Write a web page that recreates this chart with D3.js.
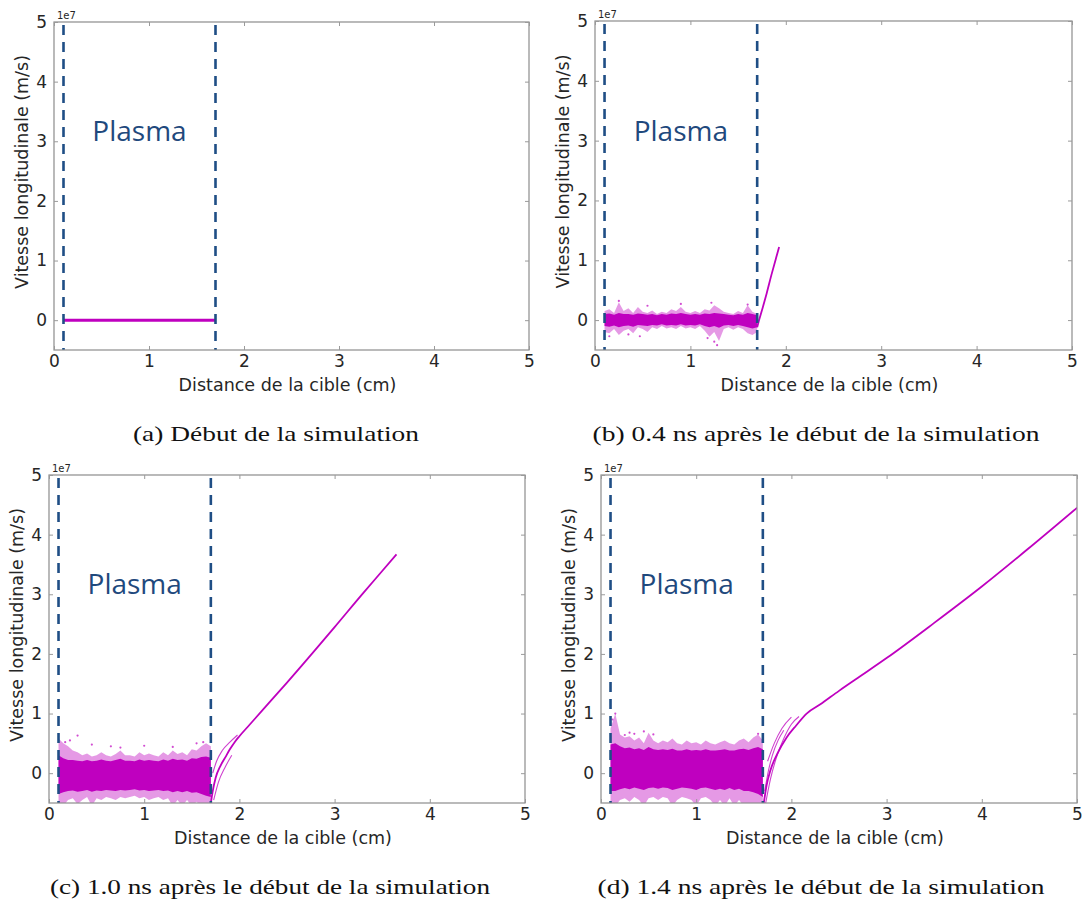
<!DOCTYPE html>
<html><head><meta charset="utf-8">
<script src="https://cdn.jsdelivr.net/npm/d3@7"></script>
<style>body{margin:0;background:#fff}</style>
</head><body>
<svg id="c" width="1083" height="901" xmlns="http://www.w3.org/2000/svg"></svg>
<script>
// ---------- data ----------
const xTicks = [0, 1, 2, 3, 4, 5];
const yTicks = [0, 1, 2, 3, 4, 5];
const xDomain = [0, 5];
const yDomain = [-0.5, 5];
const plasmaEdges = [0.1, 1.7];
const plasmaLabelPos = [0.9, 3.0];
const captions = [
  "(a) Début de la simulation",
  "(b) 0.4 ns après le début de la simulation",
  "(c) 1.0 ns après le début de la simulation",
  "(d) 1.4 ns après le début de la simulation"
];
const xLabel = "Distance de la cible (cm)";
const yLabel = "Vitesse longitudinale (m/s)";

// panel (a): cold plasma at rest
const aLine = [[0.1, 0], [1.7, 0]];

// x positions where the noise envelope was read
const bandX = [0.10,0.15,0.20,0.25,0.30,0.35,0.40,0.45,0.50,0.55,0.60,0.65,0.70,0.75,0.80,0.85,0.90,0.95,1.00,1.05,1.10,1.15,1.20,1.25,1.30,1.35,1.40,1.45,1.50,1.55,1.60,1.65,1.70];

// panel (b)
const bOuterHi = [0.15,0.18,0.12,0.30,0.15,0.20,0.12,0.22,0.14,0.12,0.16,0.10,0.14,0.12,0.18,0.15,0.22,0.14,0.12,0.15,0.12,0.18,0.16,0.25,0.20,0.14,0.12,0.10,0.15,0.12,0.25,0.14,0.10];
const bOuterLo = [-0.20,-0.22,-0.15,-0.25,-0.18,-0.15,-0.22,-0.12,-0.15,-0.20,-0.12,-0.15,-0.10,-0.14,-0.12,-0.15,-0.10,-0.14,-0.12,-0.15,-0.10,-0.18,-0.28,-0.20,-0.35,-0.15,-0.12,-0.16,-0.12,-0.15,-0.22,-0.25,-0.20];
const bCoreHi  = [0.10,0.11,0.09,0.12,0.10,0.10,0.09,0.11,0.10,0.09,0.10,0.08,0.10,0.09,0.11,0.10,0.12,0.10,0.09,0.10,0.09,0.11,0.10,0.12,0.11,0.10,0.09,0.08,0.10,0.09,0.12,0.10,0.08];
const bCoreLo  = [-0.10,-0.11,-0.09,-0.12,-0.10,-0.09,-0.11,-0.08,-0.09,-0.10,-0.08,-0.09,-0.07,-0.09,-0.08,-0.09,-0.07,-0.09,-0.08,-0.09,-0.07,-0.10,-0.12,-0.10,-0.13,-0.09,-0.08,-0.10,-0.08,-0.10,-0.12,-0.14,-0.12];
const bOutliers = [[0.25,0.32],[0.55,0.24],[0.9,0.27],[1.22,0.29],[1.28,-0.42],[1.25,-0.36],[0.35,-0.24],[1.6,0.26],[0.15,-0.27],[0.47,-0.27],[1.18,-0.3]];
const bFront = [[1.70,-0.12],[1.72,0.0],[1.76,0.22],[1.80,0.45],[1.85,0.76],[1.90,1.05],[1.93,1.22]];

// panel (c)
const cOuterHi = [0.58,0.50,0.45,0.38,0.35,0.30,0.33,0.28,0.30,0.35,0.30,0.28,0.32,0.38,0.30,0.30,0.28,0.35,0.30,0.33,0.30,0.28,0.35,0.30,0.38,0.32,0.35,0.30,0.40,0.38,0.45,0.50,0.45];
const cOuterLo = [-0.55,-0.55,-0.45,-0.42,-0.52,-0.45,-0.40,-0.55,-0.42,-0.45,-0.40,-0.42,-0.45,-0.40,-0.42,-0.40,-0.38,-0.42,-0.40,-0.45,-0.42,-0.40,-0.45,-0.42,-0.55,-0.45,-0.55,-0.45,-0.55,-0.48,-0.55,-0.55,-0.55];
const cCoreHi  = [0.30,0.25,0.22,0.22,0.21,0.20,0.22,0.20,0.21,0.23,0.21,0.20,0.22,0.24,0.21,0.21,0.20,0.23,0.21,0.22,0.21,0.20,0.23,0.21,0.24,0.22,0.23,0.21,0.25,0.24,0.27,0.28,0.26];
const cCoreLo  = [-0.35,-0.32,-0.30,-0.29,-0.31,-0.30,-0.28,-0.31,-0.29,-0.30,-0.28,-0.29,-0.30,-0.28,-0.29,-0.28,-0.27,-0.29,-0.28,-0.30,-0.29,-0.28,-0.30,-0.29,-0.32,-0.30,-0.32,-0.30,-0.33,-0.32,-0.35,-0.38,-0.40];
const cOutliers = [[0.3,0.63],[0.22,0.55],[0.45,0.48],[0.75,0.43],[1.0,0.46],[1.55,0.5],[1.62,0.52],[0.65,0.45],[0.17,0.52],[1.3,0.44]];
const cFront  = [[1.70,-0.5],[1.72,-0.3],[1.75,-0.08],[1.80,0.12],[1.85,0.26],[1.90,0.40],[1.95,0.52],[2.00,0.62],[2.10,0.80],[2.25,1.07],[2.50,1.52],[3.00,2.45],[3.30,3.02],[3.50,3.39],[3.65,3.67]];
const cFront2 = [[1.72,0.0],[1.76,0.2],[1.82,0.38],[1.90,0.52],[1.98,0.64]];
const cFront3 = [[1.73,-0.45],[1.78,-0.15],[1.85,0.1],[1.92,0.3]];

// panel (d)
const dOuterHi = [0.75,1.00,0.65,0.60,0.62,0.55,0.60,0.50,0.68,0.55,0.50,0.55,0.52,0.58,0.50,0.48,0.55,0.50,0.52,0.48,0.55,0.50,0.48,0.52,0.55,0.50,0.48,0.55,0.58,0.52,0.60,0.65,0.55];
const dOuterLo = [-0.55,-0.55,-0.45,-0.42,-0.48,-0.40,-0.45,-0.55,-0.42,-0.40,-0.45,-0.40,-0.42,-0.55,-0.45,-0.40,-0.42,-0.45,-0.55,-0.42,-0.40,-0.45,-0.55,-0.45,-0.55,-0.42,-0.55,-0.45,-0.55,-0.55,-0.55,-0.55,-0.55];
const dCoreHi  = [0.48,0.50,0.45,0.42,0.43,0.40,0.42,0.39,0.44,0.40,0.39,0.40,0.39,0.41,0.38,0.38,0.40,0.38,0.39,0.38,0.40,0.38,0.38,0.39,0.40,0.38,0.38,0.40,0.41,0.39,0.42,0.44,0.40];
const dCoreLo  = [-0.30,-0.30,-0.27,-0.25,-0.27,-0.24,-0.26,-0.28,-0.25,-0.24,-0.26,-0.24,-0.25,-0.28,-0.26,-0.24,-0.25,-0.26,-0.28,-0.25,-0.24,-0.26,-0.28,-0.26,-0.28,-0.25,-0.28,-0.26,-0.30,-0.30,-0.32,-0.35,-0.40];
const dOutliers = [[0.15,1.0],[0.12,0.9],[0.45,0.7],[0.55,0.65],[0.35,0.66],[0.3,0.68],[1.65,0.66],[0.25,0.64]];
const dFront  = [[1.71,-0.5],[1.74,-0.2],[1.78,0.05],[1.85,0.32],[1.95,0.60],[2.05,0.80],[2.16,1.00],[2.30,1.15],[2.50,1.38],[2.70,1.60],[3.00,1.93],[3.50,2.52],[4.00,3.13],[4.50,3.78],[5.00,4.45]];
const dFront2 = [[1.72,-0.3],[1.76,0.05],[1.80,0.3],[1.86,0.55],[1.92,0.72]];
const dFront3 = [[1.75,0.2],[1.82,0.5],[1.90,0.75],[2.00,0.94]];
const dFront4 = [[1.73,-0.5],[1.78,-0.1],[1.84,0.25],[1.92,0.58],[2.00,0.82],[2.08,0.95]];

// ---------- layout ----------
const panels = [
  {l:54,  r:529,  t:22,  b:350, capX:276, capY:441, capW:286,
   band:null, line:aLine, fronts:[], outliers:[]},
  {l:595, r:1072, t:21,  b:350, capX:816, capY:441, capW:447,
   band:{hi:bOuterHi, lo:bOuterLo, chi:bCoreHi, clo:bCoreLo}, line:null, fronts:[bFront], outliers:bOutliers},
  {l:49,  r:525,  t:475, b:803, capX:270, capY:894, capW:440,
   band:{hi:cOuterHi, lo:cOuterLo, chi:cCoreHi, clo:cCoreLo}, line:null, fronts:[cFront, cFront2, cFront3], outliers:cOutliers},
  {l:601, r:1077, t:475, b:803, capX:821, capY:894, capW:447,
   band:{hi:dOuterHi, lo:dOuterLo, chi:dCoreHi, clo:dCoreLo}, line:null, fronts:[dFront, dFront2, dFront3, dFront4], outliers:dOutliers}
];

const MAG = "#bf00bf";
const DASH = "#1f4e85";
const svg = d3.select("#c");
svg.append("rect").attr("width",1083).attr("height",901).attr("fill","#fff");

panels.forEach((p, i) => {
  const x = d3.scaleLinear().domain(xDomain).range([p.l, p.r]);
  const y = d3.scaleLinear().domain(yDomain).range([p.b, p.t]);
  const g = svg.append("g");
  const clipId = "clip" + i;
  svg.append("clipPath").attr("id", clipId).append("rect")
    .attr("x", p.l).attr("y", p.t).attr("width", p.r - p.l).attr("height", p.b - p.t);
  const data = g.append("g").attr("clip-path", `url(#${clipId})`);

  if (p.band) {
    const outer = bandX.map((xv, k) => ({x: xv, hi: p.band.hi[k], lo: p.band.lo[k]}));
    const core = bandX.map((xv, k) => ({x: xv, hi: p.band.chi[k], lo: p.band.clo[k]}));
    const area = d3.area().x(d => x(d.x)).y0(d => y(d.lo)).y1(d => y(d.hi)).curve(d3.curveLinear);
    data.append("path").datum(outer).attr("d", area).attr("fill", MAG).attr("fill-opacity", 0.4);
    data.append("path").datum(core).attr("d", area).attr("fill", MAG);
    data.selectAll(".o").data(p.outliers).enter().append("circle")
      .attr("cx", d => x(d[0])).attr("cy", d => y(d[1])).attr("r", 1.1).attr("fill", MAG).attr("fill-opacity", 0.7);
  }
  const line = d3.line().x(d => x(d[0])).y(d => y(d[1])).curve(d3.curveMonotoneX);
  if (p.line) {
    data.append("path").datum(p.line).attr("d", line).attr("fill","none").attr("stroke", MAG).attr("stroke-width", 3);
  }
  p.fronts.forEach((f, k) => {
    data.append("path").datum(f).attr("d", line).attr("fill","none")
      .attr("stroke", MAG).attr("stroke-width", k === 0 ? 1.8 : 1.1).attr("stroke-opacity", k === 0 ? 1 : 0.75);
  });

  // plasma boundaries
  g.selectAll(".dash").data(plasmaEdges).enter().append("line")
    .attr("x1", d => x(d)).attr("x2", d => x(d)).attr("y1", p.t + 3).attr("y2", p.b)
    .attr("stroke", DASH).attr("stroke-width", 2.6).attr("stroke-dasharray", "10,7");

  // frame
  g.append("rect").attr("x", p.l).attr("y", p.t).attr("width", p.r - p.l).attr("height", p.b - p.t)
    .attr("fill", "none").attr("stroke", "#8c8c8c").attr("stroke-width", 1.2);

  // axes (inward ticks)
  const styleAxis = sel => {
    sel.select(".domain").remove();
    sel.selectAll(".tick line").attr("stroke", "#9a9a9a").attr("stroke-width", 1);
    sel.selectAll(".tick text").attr("fill", "#262626").style("font-family", "'DejaVu Sans', sans-serif").style("font-size", "17px");
  };
  g.append("g").attr("transform", `translate(0,${p.b})`)
    .call(d3.axisBottom(x).tickValues(xTicks).tickSize(-4).tickPadding(5).tickFormat(d3.format("d"))).call(styleAxis);
  g.append("g").attr("transform", `translate(0,${p.t})`)
    .call(d3.axisTop(x).tickValues(xTicks).tickSize(-4).tickFormat("")).call(styleAxis);
  g.append("g").attr("transform", `translate(${p.l},0)`)
    .call(d3.axisLeft(y).tickValues(yTicks).tickSize(-4).tickPadding(7).tickFormat(d3.format("d"))).call(styleAxis);
  g.append("g").attr("transform", `translate(${p.r},0)`)
    .call(d3.axisRight(y).tickValues(yTicks).tickSize(-4).tickFormat("")).call(styleAxis);

  // offset text
  g.append("text").attr("x", p.l + 3).attr("y", p.t - 3).text("1e7")
    .style("font-family", "'DejaVu Sans', sans-serif").style("font-size", "10px").attr("fill", "#262626");

  // axis labels
  g.append("text").attr("x", (p.l + p.r) / 2 - 4).attr("y", p.b + 41).attr("text-anchor", "middle").text(xLabel)
    .style("font-family", "'DejaVu Sans', sans-serif").style("font-size", "17.5px").attr("fill", "#262626");
  g.append("text").attr("transform", `translate(${p.l - 26},${(p.t + p.b) / 2 - 14}) rotate(-90)`)
    .attr("text-anchor", "middle").text(yLabel)
    .style("font-family", "'DejaVu Sans', sans-serif").style("font-size", "17.5px").attr("fill", "#262626");

  // Plasma label
  g.append("text").attr("x", x(plasmaLabelPos[0])).attr("y", y(plasmaLabelPos[1])).attr("text-anchor", "middle")
    .text("Plasma").style("font-family", "'Open Sans', sans-serif").style("font-size", "28px").attr("fill", "#1f497d");

  // caption
  svg.append("text").attr("x", p.capX).attr("y", p.capY).attr("text-anchor", "middle").text(captions[i])
    .attr("textLength", p.capW).attr("lengthAdjust", "spacingAndGlyphs")
    .style("font-family", "'Liberation Serif', serif").style("font-size", "22px").attr("fill", "#111");
});
</script>
</body></html>
